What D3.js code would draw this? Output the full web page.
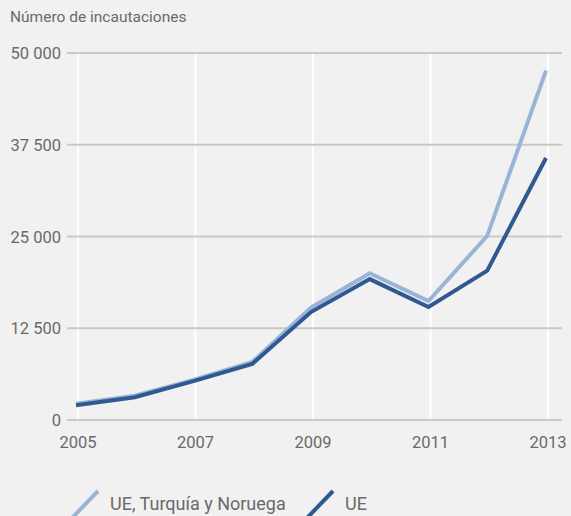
<!DOCTYPE html>
<html>
<head>
<meta charset="utf-8">
<script src="https://cdn.jsdelivr.net/npm/d3@7"></script>
<style>
  body { margin: 0; background: #f1f1f1; }
  svg { display: block; font-family: Roboto, sans-serif; }
</style>
</head>
<body>
<script>
"use strict";

var years = [2005, 2006, 2007, 2008, 2009, 2010, 2011, 2012, 2013];
var ueTurNor = [2200, 3300, 5450, 7900, 15300, 20000, 16200, 25100, 47600];
var ue = [2000, 3100, 5300, 7650, 14700, 19200, 15400, 20350, 35700];
var yTicks = [0, 12500, 25000, 37500, 50000];
var xTicks = [2005, 2007, 2009, 2011, 2013];
var seriesNames = ["UE, Turquía y Noruega", "UE"];
var colors = ["#9bb4d6", "#2f5a91"];

var width = 571, height = 516;

var svg = d3.select("body").append("svg")
    .attr("width", width)
    .attr("height", height);

var x = d3.scaleLinear().domain([2005, 2013]).range([78, 548]);
var y = d3.scaleLinear().domain([0, 50000]).range([420, 53]);

function fmt(v) {
  // space as thousands separator
  return d3.format(",")(v).replace(/,/g, " ");
}

// title
svg.append("text")
    .attr("x", 10)
    .attr("y", 22)
    .attr("fill", "#6a6a6a")
    .style("font-size", "15.5px")
    .text("Número de incautaciones");

// vertical white grid
svg.selectAll(".vgrid")
    .data(xTicks)
    .enter()
      .append("line")
      .attr("x1", function(d) { return x(d); })
      .attr("x2", function(d) { return x(d); })
      .attr("y1", y(50000))
      .attr("y2", y(0))
      .attr("stroke", "#ffffff")
      .attr("stroke-width", 2);

// horizontal grid
svg.selectAll(".hgrid")
    .data(yTicks)
    .enter()
      .append("line")
      .attr("x1", 67)
      .attr("x2", 562)
      .attr("y1", function(d) { return y(d); })
      .attr("y2", function(d) { return y(d); })
      .attr("stroke", "#c9c9c9")
      .attr("stroke-width", 2);

// y labels
svg.selectAll(".ylab")
    .data(yTicks)
    .enter()
      .append("text")
      .attr("x", 61)
      .attr("y", function(d) { return y(d) + 6; })
      .attr("text-anchor", "end")
      .attr("fill", "#6a6a6a")
      .style("font-size", "16.5px")
      .text(fmt);

// x labels
svg.selectAll(".xlab")
    .data(xTicks)
    .enter()
      .append("text")
      .attr("x", function(d) { return x(d); })
      .attr("y", 448)
      .attr("text-anchor", "middle")
      .attr("fill", "#6a6a6a")
      .style("font-size", "16.5px")
      .text(function(d) { return d; });

var line = d3.line()
    .x(function(d, i) { return x(years[i]) - 2; })
    .y(function(d) { return y(d); });

[ueTurNor, ue].forEach(function(vals, i) {
  svg.append("path")
      .datum(vals)
      .attr("d", line)
      .attr("fill", "none")
      .attr("stroke", colors[i])
      .attr("stroke-width", 4)
      .attr("stroke-linejoin", "miter");
});

// legend
var legendX = [72, 307];
var legend = svg.selectAll(".legend")
    .data(seriesNames)
    .enter()
      .append("g")
      .attr("transform", function(d, i) { return "translate(" + legendX[i] + ",0)"; });

legend.append("line")
    .attr("x1", 0)
    .attr("y1", 518)
    .attr("x2", 26)
    .attr("y2", 491)
    .attr("stroke", function(d, i) { return colors[i]; })
    .attr("stroke-width", 4);

legend.append("text")
    .attr("x", 38)
    .attr("y", 510)
    .attr("fill", "#6a6a6a")
    .style("font-size", "18px")
    .text(function(d) { return d; });
</script>
</body>
</html>
